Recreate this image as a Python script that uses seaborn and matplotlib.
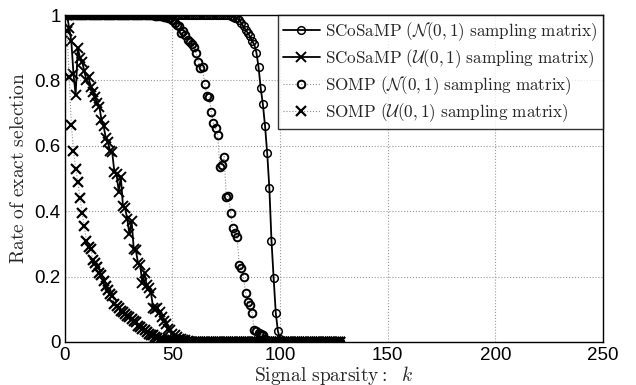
import numpy as np
import pandas as pd
import matplotlib
matplotlib.use("Agg")
import matplotlib.pyplot as plt
import seaborn as sns

# signal sparsity k = 1..128
k = list(range(1, 129))

# SCoSaMP, N(0,1) sampling matrix
scosamp_n = ([1.0] * 76 +
             [0.998, 0.995, 0.99, 0.99, 0.985, 0.975, 0.965, 0.955, 0.945, 0.935,
              0.92, 0.91, 0.885, 0.84, 0.776, 0.727, 0.661, 0.578,
              0.472, 0.31, 0.195, 0.088, 0.032, 0.01] +
             [0.0] * 28)

# SCoSaMP, U(0,1) sampling matrix
scosamp_u = ([1.0, 0.96, 0.92, 0.82, 0.755, 0.90, 0.87, 0.857, 0.83, 0.80,
              0.81, 0.78, 0.765, 0.75, 0.73, 0.72, 0.68, 0.66, 0.625, 0.61,
              0.585, 0.58, 0.52, 0.515, 0.46, 0.505, 0.415, 0.41, 0.375, 0.33,
              0.37, 0.285, 0.28, 0.24, 0.235, 0.18, 0.21, 0.175, 0.165, 0.15,
              0.105, 0.10, 0.105, 0.09, 0.075, 0.065, 0.055, 0.04, 0.035, 0.025,
              0.02, 0.015, 0.01, 0.01, 0.005, 0.005, 0.003] +
             [0.0] * 71)

# SOMP, N(0,1) sampling matrix
somp_n = ([1.0] * 41 +
          [0.998, 0.998, 0.998, 0.998, 0.995, 0.993, 0.99, 0.99, 0.985,
           0.975, 0.97, 0.965, 0.944, 0.95, 0.94, 0.925, 0.918, 0.91, 0.903,
           0.883, 0.857, 0.839, 0.84, 0.789, 0.752, 0.75, 0.704, 0.669, 0.653,
           0.633, 0.536, 0.54, 0.567, 0.444, 0.445, 0.394, 0.348, 0.332, 0.322,
           0.235, 0.225, 0.2, 0.149, 0.123, 0.113, 0.088, 0.037, 0.032, 0.027,
           0.025, 0.02, 0.01] +
          [0.0] * 35)

# SOMP, U(0,1) sampling matrix
somp_u = ([0.95, 0.81, 0.665, 0.585, 0.53, 0.49, 0.44, 0.395, 0.355, 0.31,
           0.29, 0.285, 0.25, 0.24, 0.23, 0.21, 0.205, 0.185, 0.17, 0.16,
           0.145, 0.14, 0.115, 0.11, 0.105, 0.095, 0.09, 0.085, 0.08, 0.075,
           0.07, 0.065, 0.06, 0.05, 0.045, 0.04, 0.035, 0.03, 0.025, 0.022,
           0.02, 0.015, 0.012, 0.01, 0.008, 0.006, 0.004, 0.003, 0.002, 0.001] +
          [0.0] * 78)

labels = [r'$\mathrm{SCoSaMP\ (}\mathcal{N}(0,1)\mathrm{\ sampling\ matrix)}$',
          r'$\mathrm{SCoSaMP\ (}\mathcal{U}(0,1)\mathrm{\ sampling\ matrix)}$',
          r'$\mathrm{SOMP\ (}\mathcal{N}(0,1)\mathrm{\ sampling\ matrix)}$',
          r'$\mathrm{SOMP\ (}\mathcal{U}(0,1)\mathrm{\ sampling\ matrix)}$']

df = pd.DataFrame({'k': k, 's_n': scosamp_n, 's_u': scosamp_u,
                   'o_n': somp_n, 'o_u': somp_u})

sns.set_style('white')
plt.rcParams['font.family'] = ['Liberation Sans', 'DejaVu Sans']
plt.rcParams['mathtext.fontset'] = 'cm'

fig = plt.figure(figsize=(6.36, 3.85), dpi=100)
ax = fig.add_axes([0.102, 0.112, 0.846, 0.849])

sns.lineplot(data=df, x='k', y='s_n', ax=ax, color='black', lw=1.3,
             marker='o', ms=5.5, mfc='none', mec='black', mew=1.1, label=labels[0])
sns.lineplot(data=df, x='k', y='s_u', ax=ax, color='black', lw=1.3,
             marker='x', ms=6.5, mec='black', mew=1.4, label=labels[1])
sns.lineplot(data=df, x='k', y='o_n', ax=ax, color='0.55', lw=0.8, ls=':',
             marker='o', ms=5.5, mfc='none', mec='black', mew=1.4, label=labels[2])
sns.lineplot(data=df, x='k', y='o_u', ax=ax, color='0.55', lw=0.8, ls=':',
             marker='x', ms=6.5, mec='black', mew=1.6, label=labels[3])

ax.set_xlim(0, 250)
ax.set_ylim(0, 1)
ax.set_xticks([0, 50, 100, 150, 200, 250])
ax.set_yticks([0, 0.2, 0.4, 0.6, 0.8, 1])
ax.set_yticklabels(['0', '0.2', '0.4', '0.6', '0.8', '1'])
ax.tick_params(direction='in', length=4, labelsize=13.5, colors='black')
ax.tick_params(axis='x', pad=4)
ax.tick_params(axis='y', pad=3)
ax.grid(True, ls=':', color='0.6', lw=0.8)
for s in ax.spines.values():
    s.set_color('black')
    s.set_linewidth(1.0)

ax.set_xlabel(r'$\mathrm{Signal\ sparsity:}\ \ k$', fontsize=14)
ax.xaxis.set_label_coords(0.5, -0.068)
ax.set_ylabel(r'$\mathrm{Rate\ of\ exact\ selection}$', fontsize=14)
ax.yaxis.set_label_coords(-0.068, 0.53)

leg = ax.legend(loc='upper right', borderaxespad=0, fontsize=12.3,
                frameon=True, fancybox=False, edgecolor='black',
                handlelength=2.2, handletextpad=0.3, labelspacing=0.25,
                borderpad=0.3)
leg.get_frame().set_linewidth(1.0)

fig.savefig('out.png', dpi=100)
